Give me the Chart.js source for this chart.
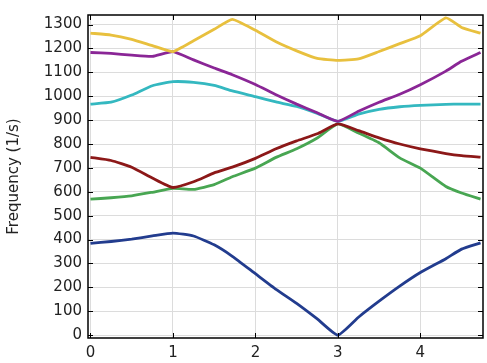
<!DOCTYPE html>
<html>
<head>
<meta charset="utf-8">
<script src="https://cdn.jsdelivr.net/npm/chart.js@4.4.1/dist/chart.umd.min.js"></script>
<style>
  html, body { margin: 0; padding: 0; background: #fff; }
  #wrap { width: 487px; height: 363px; }
</style>
</head>
<body>
<div id="wrap"><canvas id="band_canva"></canvas></div>
<script>
// X-axis: position along the path
var kPath = [0, 0.25, 0.5, 0.75, 1, 1.25, 1.5, 1.72, 2, 2.25, 2.5, 2.75, 3, 3.25, 3.5, 3.75, 4, 4.31, 4.5, 4.73];

// Y-axis: frequency of each branch (1/s)
var bandYellow = [1264, 1256, 1238, 1212, 1187, 1232, 1280, 1322, 1276, 1228, 1190, 1158, 1150, 1156, 1187, 1220, 1253, 1328, 1288, 1264];
var bandPurple = [1183, 1179, 1172, 1167, 1187, 1152, 1118, 1090, 1049, 1006, 967, 931, 895, 937, 975, 1008, 1048, 1105, 1146, 1183];
var bandCyan   = [967, 975, 1005, 1044, 1061, 1058, 1045, 1022, 998, 976, 957, 928, 895, 925, 945, 956, 962, 966, 967, 967];
var bandRed    = [744, 731, 703, 658, 618, 642, 679, 703, 740, 780, 813, 843, 884, 856, 826, 800, 780, 760, 751, 745];
var bandGreen  = [569, 575, 583, 598, 614, 610, 630, 663, 699, 744, 780, 825, 884, 846, 805, 742, 699, 622, 595, 569];
var bandBlue   = [384, 392, 402, 415, 427, 415, 378, 330, 257, 192, 133, 68, 0, 75, 142, 205, 262, 320, 360, 386];

var yTitle = 'Frequency (1/s)';

function to_points( ys ){
    var pts = [];
    for( var i = 0; i < kPath.length; i++ ){
        pts.push({ x: kPath[i], y: ys[i] });
    }
    return pts;
}

function band( ys, color ){
    return {
        data: to_points( ys ),
        borderColor: color,
        borderWidth: 2.8,
        pointRadius: 0,
        fill: false,
        tension: 0.15
    };
}

// frame with the little ticks pointing inside
var framePlugin = {
    id: 'frame',
    afterDraw: function( chart ){
        var c = chart.ctx, a = chart.chartArea;
        var xs = chart.scales.x, ys = chart.scales.y;
        var len = 5;
        c.save();
        c.strokeStyle = '#000';
        c.lineWidth = 1;
        c.beginPath();
        ys.ticks.forEach(function( t ){
            var p = Math.round( ys.getPixelForValue( t.value ) ) + 0.5;
            c.moveTo( a.left, p ); c.lineTo( a.left + len, p );
            c.moveTo( a.right, p ); c.lineTo( a.right - len, p );
        });
        xs.ticks.forEach(function( t ){
            var p = Math.round( xs.getPixelForValue( t.value ) ) + 0.5;
            c.moveTo( p, a.top ); c.lineTo( p, a.top + len );
            c.moveTo( p, a.bottom ); c.lineTo( p, a.bottom - len );
        });
        c.stroke();
        c.lineWidth = 1.5;
        c.strokeRect( a.left, a.top, a.right - a.left, a.bottom - a.top );
        c.restore();
    }
};

var tickFont = { family: 'DejaVu Sans', size: 15 };

var ctx = document.getElementById('band_canva').getContext('2d');

new Chart(ctx, {
    type: 'line',
    data: {
        datasets: [
            band( bandYellow, 'rgb(232, 192, 62)' ),
            band( bandPurple, 'rgb(138, 38, 150)' ),
            band( bandCyan,   'rgb(52, 184, 192)' ),
            band( bandRed,    'rgb(140, 24, 24)' ),
            band( bandGreen,  'rgb(72, 166, 82)' ),
            band( bandBlue,   'rgb(34, 60, 142)' )
        ]
    },
    options: {
        responsive: true,
        maintainAspectRatio: false,
        animation: false,
        layout: { padding: { top: 5, right: 4, left: 0, bottom: 0 } },
        plugins: {
            legend: { display: false },
            tooltip: { enabled: false }
        },
        scales: {
            x: {
                type: 'linear',
                min: -0.03,
                max: 4.76,
                border: { display: false },
                grid: { color: '#dcdcdc', drawTicks: false },
                ticks: {
                    stepSize: 1,
                    includeBounds: false,
                    padding: 6,
                    color: '#222',
                    font: tickFont,
                    callback: function( v ){ return String( v ); }
                },
                afterFit: function( s ){ s.height = 25; }
            },
            y: {
                min: -12,
                max: 1340,
                border: { display: false },
                grid: { color: '#dcdcdc', drawTicks: false },
                ticks: {
                    stepSize: 100,
                    includeBounds: false,
                    padding: 6,
                    color: '#222',
                    font: tickFont,
                    callback: function( v ){ return String( v ); }
                },
                title: {
                    display: true,
                    text: yTitle,
                    color: '#222',
                    padding: { top: 5, bottom: 0 },
                    font: { family: 'DejaVu Sans', size: 15 }
                },
                afterFit: function( s ){ s.width = 88; }
            }
        }
    },
    plugins: [ framePlugin ]
});
</script>
</body>
</html>
